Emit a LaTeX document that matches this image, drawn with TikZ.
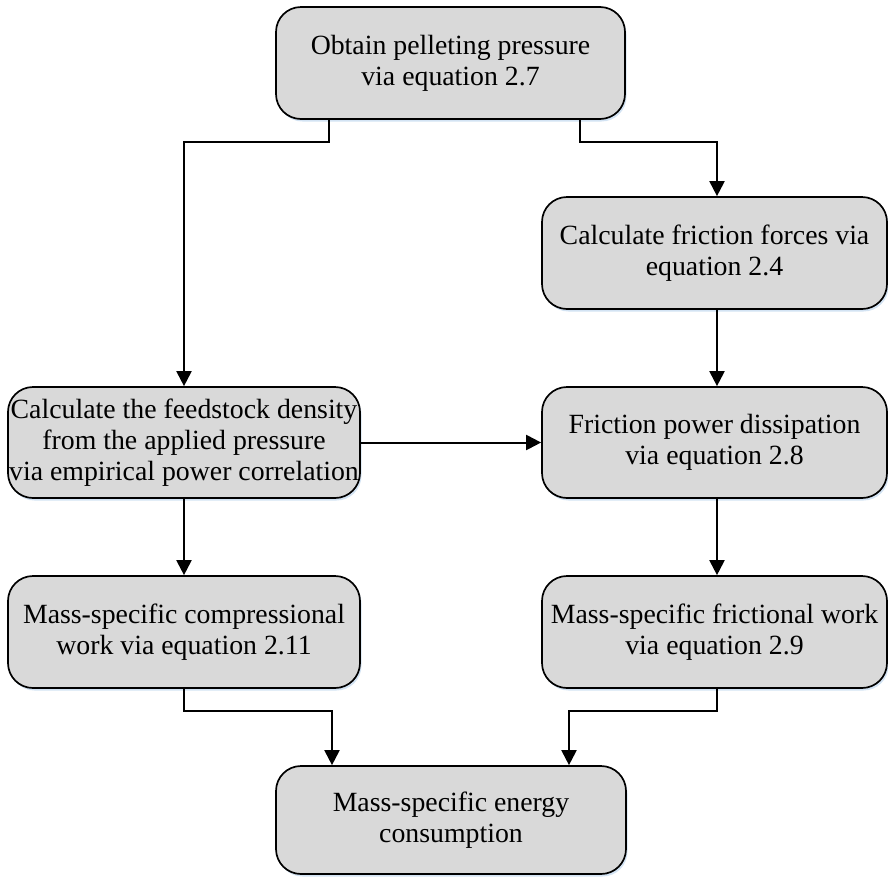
\documentclass[tikz,border=0pt]{standalone}
\usepackage{fontspec}
\setmainfont{Liberation Serif}
\usetikzlibrary{arrows.meta,shadows}
\definecolor{boxgray}{RGB}{217,217,217}
\definecolor{glow}{RGB}{200,220,240}
\begin{document}
\begin{tikzpicture}[x=1pt,y=-1pt,
  box/.style={draw=black, line width=1.7pt, fill=boxgray, rounded corners=25pt,
    inner sep=0pt, align=center, font=\fontsize{27.8}{31}\selectfont,
    drop shadow={shadow xshift=1.5pt, shadow yshift=-2.5pt, fill=glow, opacity=0.8}},
  conn/.style={draw=black, line width=2pt, -{Triangle[width=15pt,length=15pt]}}]
\useasboundingbox (0,0) rectangle (888,876);
\node[box, minimum width=349pt, minimum height=112pt] (top) at (450.5,63) {Obtain pelleting pressure\\via equation 2.7};
\node[box, minimum width=345pt, minimum height=112pt] (R1) at (714.5,253) {Calculate friction forces via\\equation 2.4};
\node[box, minimum width=352pt, minimum height=111pt] (L2) at (184,442.5) {Calculate the feedstock density\\from the applied pressure\\via empirical power correlation};
\node[box, minimum width=345pt, minimum height=111pt] (R2) at (714.5,442.5) {Friction power dissipation\\via equation 2.8};
\node[box, minimum width=352pt, minimum height=112pt] (L3) at (184,632) {Mass-specific compressional\\work via equation 2.11};
\node[box, minimum width=345pt, minimum height=112pt] (R3) at (714.5,632) {Mass-specific frictional work\\via equation 2.9};
\node[box, minimum width=350pt, minimum height=108pt] (bot) at (451,820) {Mass-specific energy\\consumption};
\coordinate (tl) at (329,0);
\coordinate (tr) at (580,0);
\coordinate (lc) at (184,0);
\coordinate (rc) at (717,0);
\coordinate (bl) at (332,0);
\coordinate (br) at (569,0);
\coordinate (ya) at (0,142);
\coordinate (yb) at (0,711);
\draw[conn] (top.south -| tl) -- (tl |- ya) -- (lc |- ya) -- (L2.north -| lc);
\draw[conn] (top.south -| tr) -- (tr |- ya) -- (rc |- ya) -- (R1.north -| rc);
\draw[conn] (R1.south -| rc) -- (R2.north -| rc);
\draw[conn] (L2.east) -- (R2.west);
\draw[conn] (L2.south -| lc) -- (L3.north -| lc);
\draw[conn] (R2.south -| rc) -- (R3.north -| rc);
\draw[conn] (L3.south -| lc) -- (lc |- yb) -- (bl |- yb) -- (bot.north -| bl);
\draw[conn] (R3.south -| rc) -- (rc |- yb) -- (br |- yb) -- (bot.north -| br);
\end{tikzpicture}
\end{document}
